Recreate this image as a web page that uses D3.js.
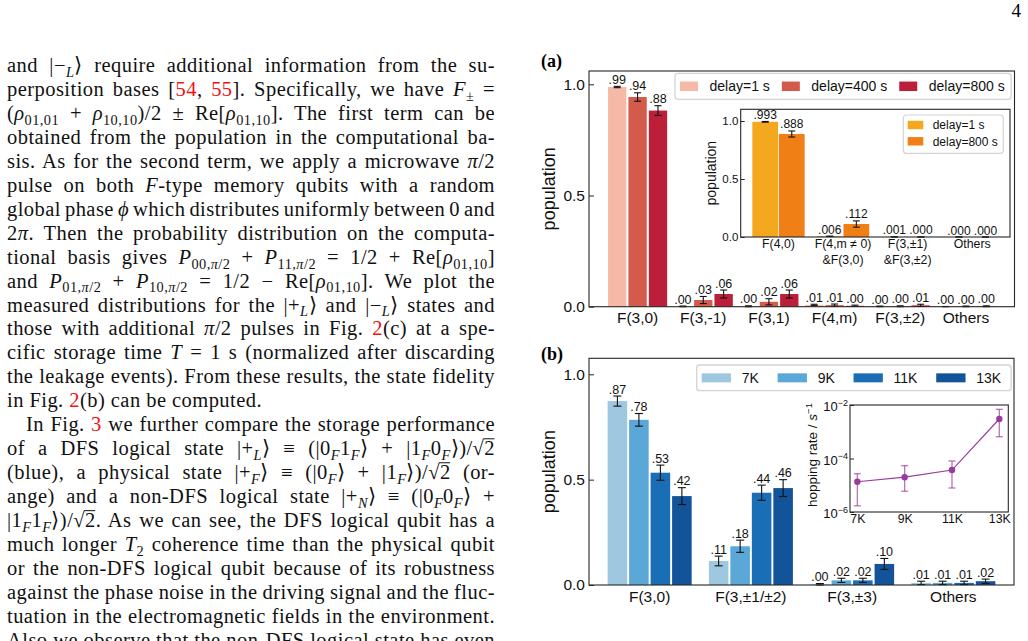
<!DOCTYPE html>
<html>
<head>
<meta charset="utf-8">
<script src="https://cdn.jsdelivr.net/npm/d3@7"></script>
<style>
  body { margin: 0; background: #fff; }
  svg { display: block; }
</style>
</head>
<body>
<svg id="page" width="1028" height="641"></svg>
<script>
// ---- panel (a): population after storage ----
var catsA = ["F(3,0)", "F(3,-1)", "F(3,1)", "F(4,m)", "F(3,±2)", "Others"];
var seriesA = ["delay=1 s", "delay=400 s", "delay=800 s"];
var popA_1s   = [0.988, 0.001, 0.002, 0.008, 0.001, 0.000];
var popA_400s = [0.943, 0.030, 0.022, 0.007, 0.002, 0.001];
var popA_800s = [0.882, 0.057, 0.057, 0.004, 0.006, 0.002];
var errA_1s   = [0.003, 0.002, 0.002, 0.003, 0.002, 0.001];
var errA_400s = [0.019, 0.016, 0.014, 0.005, 0.002, 0.002];
var errA_800s = [0.022, 0.018, 0.018, 0.003, 0.005, 0.002];

// ---- inset of (a) ----
var catsAin = ["F(4,0)", "F(4,m ≠ 0)\n&F(3,0)", "F(3,±1)\n&F(3,±2)", "Others"];
var seriesAin = ["delay=1 s", "delay=800 s"];
var popAin_1s   = [0.993, 0.006, 0.001, 0.000];
var popAin_800s = [0.888, 0.112, 0.000, 0.000];
var errAin_1s   = [0.003, 0.002, 0.001, 0.000];
var errAin_800s = [0.026, 0.027, 0.001, 0.000];

// ---- panel (b) ----
var catsB = ["F(3,0)", "F(3,±1/±2)", "F(3,±3)", "Others"];
var seriesB = ["7K", "9K", "11K", "13K"];
var popB_7K  = [0.873, 0.114, 0.003, 0.010];
var popB_9K  = [0.784, 0.184, 0.022, 0.010];
var popB_11K = [0.533, 0.438, 0.022, 0.010];
var popB_13K = [0.422, 0.460, 0.100, 0.018];
var errB_7K  = [0.024, 0.023, 0.004, 0.008];
var errB_9K  = [0.030, 0.029, 0.010, 0.008];
var errB_11K = [0.036, 0.036, 0.010, 0.008];
var errB_13K = [0.040, 0.040, 0.026, 0.010];

// ---- inset of (b): hopping rate ----
var tempK = [7, 9, 11, 13];
var tempLabels = ["7K", "9K", "11K", "13K"];
var hopRate = [1.35e-5, 2.0e-5, 3.7e-5, 3.0e-3];
var hopLow  = [1.7e-6, 6.0e-6, 7.9e-6, 6.5e-4];
var hopHigh = [2.7e-5, 5.4e-5, 8.1e-5, 6.9e-3];
var hopTicks = [1e-6, 1e-4, 1e-2];

var popTicks = [0, 0.5, 1.0];

var SANS = '"Liberation Sans", Arial, Helvetica, sans-serif';
var SERIF = '"Liberation Serif", "Times New Roman", serif';
var svg = d3.select("#page");

function stripZero(f) {
    return function(v) { return f(v).replace(/^0\./, "."); };
}

function frame(g, x0, y0, x1, y1) {
    g.append("rect")
        .attr("x", x0).attr("y", y1)
        .attr("width", x1 - x0).attr("height", y0 - y1)
        .attr("fill", "none")
        .attr("stroke", "#262626")
        .attr("stroke-width", 1.1);
}

function barPanel(cfg) {
    var g = svg.append("g").attr("font-family", SANS);
    if (cfg.fill)
        g.append("rect").attr("x", cfg.x0).attr("y", cfg.y1)
            .attr("width", cfg.x1 - cfg.x0).attr("height", cfg.y0 - cfg.y1)
            .attr("fill", "#fff");

    var x = d3.scaleBand().domain(cfg.cats).range([cfg.x0, cfg.x1])
        .paddingInner(cfg.padIn).paddingOuter(cfg.padOut);
    var xs = d3.scaleBand().domain(cfg.series).range([0, x.bandwidth()])
        .paddingInner(cfg.barPad);
    var y = d3.scaleLinear().domain([0, cfg.ymax]).range([cfg.y0, cfg.y1]);

    var rows = [];
    cfg.series.forEach(function(s, si) {
        cfg.cats.forEach(function(c, ci) {
            rows.push({cat: c, s: s, v: cfg.values[si][ci], e: cfg.errs[si][ci], col: cfg.colors[si]});
        });
    });
    var cx = function(d) { return x(d.cat) + xs(d.s) + xs.bandwidth() / 2; };

    var bar = g.selectAll("g.bar").data(rows).enter().append("g").attr("class", "bar");
    bar.append("rect")
        .attr("x", function(d) { return x(d.cat) + xs(d.s); })
        .attr("y", function(d) { return y(d.v); })
        .attr("width", xs.bandwidth())
        .attr("height", function(d) { return y(0) - y(d.v); })
        .attr("fill", function(d) { return d.col; });
    // error bars
    bar.append("line")
        .attr("x1", cx).attr("x2", cx)
        .attr("y1", function(d) { return y(Math.max(0, d.v - d.e)); })
        .attr("y2", function(d) { return y(d.v + d.e); })
        .attr("stroke", "#111").attr("stroke-width", 1.1);
    [function(d) { return d.v + d.e; }, function(d) { return Math.max(0, d.v - d.e); }].forEach(function(f) {
        bar.append("line")
            .attr("x1", function(d) { return cx(d) - cfg.cap / 2; })
            .attr("x2", function(d) { return cx(d) + cfg.cap / 2; })
            .attr("y1", function(d) { return y(f(d)); })
            .attr("y2", function(d) { return y(f(d)); })
            .attr("stroke", "#111").attr("stroke-width", 1.1);
    });
    bar.append("text")
        .attr("x", cx)
        .attr("y", function(d) { return y(d.v + d.e) - 2.5; })
        .attr("text-anchor", "middle")
        .attr("font-size", cfg.labelFs)
        .attr("fill", "#111")
        .text(function(d) { return cfg.fmt(d.v); });

    var ya = g.append("g").attr("transform", "translate(" + cfg.x0 + ",0)")
        .call(d3.axisLeft(y).tickValues(popTicks).tickFormat(d3.format(".1f"))
            .tickSizeInner(-cfg.tick).tickSizeOuter(0).tickPadding(cfg.tickPad));
    ya.select(".domain").remove();
    ya.attr("font-family", SANS).attr("font-size", cfg.tickFs);
    ya.selectAll("line").attr("stroke", "#262626");
    ya.selectAll("text").attr("fill", "#111");

    var xa = g.append("g").attr("transform", "translate(0," + cfg.y0 + ")")
        .call(d3.axisBottom(x).tickSize(0).tickPadding(cfg.xPad));
    xa.select(".domain").remove();
    xa.attr("font-family", SANS).attr("font-size", cfg.xFs);
    xa.selectAll("text").attr("fill", "#111").each(function(d) {
        var parts = d.split("\n");
        if (parts.length < 2) return;
        var t = d3.select(this).text("").attr("dy", null);
        parts.forEach(function(p, i) {
            t.append("tspan").attr("x", 0).attr("dy", i === 0 ? "0.71em" : "1.3em").text(p);
        });
    });

    frame(g, cfg.x0, cfg.y0, cfg.x1, cfg.y1);

    g.append("text")
        .attr("transform", "translate(" + cfg.ylabX + "," + (cfg.y0 + cfg.y1) / 2 + ") rotate(-90)")
        .attr("text-anchor", "middle")
        .attr("font-size", cfg.ylabFs)
        .attr("fill", "#111")
        .text("population");
    return g;
}

function hLegend(o) {
    var lg = svg.append("g").attr("font-family", SANS);
    var box = lg.append("rect");
    var px = o.x + o.padL;
    o.names.forEach(function(n, i) {
        lg.append("rect").attr("x", px).attr("y", o.y + (o.h - o.patchH) / 2)
            .attr("width", o.patchW).attr("height", o.patchH).attr("fill", o.colors[i]);
        var t = lg.append("text").attr("x", px + o.patchW + o.gap).attr("y", o.y + o.h / 2)
            .attr("dy", "0.35em").attr("font-size", o.fs).attr("fill", "#111").text(n);
        px += o.patchW + o.gap + t.node().getComputedTextLength() + o.colSpace;
    });
    box.attr("x", o.x).attr("y", o.y)
        .attr("width", px - o.colSpace + o.padR - o.x).attr("height", o.h)
        .attr("rx", 3).attr("fill", "#fff").attr("fill-opacity", 0.85)
        .attr("stroke", "#d4d4d4").attr("stroke-width", 1.3);
}

function vLegend(o) {
    var lg = svg.append("g").attr("font-family", SANS);
    lg.append("rect").attr("x", o.x).attr("y", o.y).attr("width", o.w).attr("height", o.h)
        .attr("rx", 3).attr("fill", "#fff").attr("fill-opacity", 0.85)
        .attr("stroke", "#d4d4d4").attr("stroke-width", 1.2);
    o.names.forEach(function(n, i) {
        var cy = o.y + o.first + i * o.row;
        lg.append("rect").attr("x", o.x + o.padL).attr("y", cy - o.patchH / 2)
            .attr("width", o.patchW).attr("height", o.patchH).attr("fill", o.colors[i]);
        lg.append("text").attr("x", o.x + o.padL + o.patchW + o.gap).attr("y", cy)
            .attr("dy", "0.35em").attr("font-size", o.fs).attr("fill", "#111").text(n);
    });
}

function hopInset(o) {
    var g = svg.append("g").attr("font-family", SANS);
    g.append("rect").attr("x", o.x0).attr("y", o.y1).attr("width", o.x1 - o.x0)
        .attr("height", o.y0 - o.y1).attr("fill", "#fff");
    var x = d3.scaleLinear().domain([6.69, 13.38]).range([o.x0, o.x1]);
    var y = d3.scaleLog().domain([1e-6, 1e-2]).range([o.y0, o.y1]);
    var pts = tempK.map(function(k, i) {
        return {k: k, r: hopRate[i], lo: hopLow[i], hi: hopHigh[i]};
    });
    var purple = "#9b3a9d";
    var eb = g.append("g").attr("stroke", purple).attr("stroke-opacity", 0.7).attr("stroke-width", 1.3);
    pts.forEach(function(d) {
        eb.append("line").attr("x1", x(d.k)).attr("x2", x(d.k)).attr("y1", y(d.lo)).attr("y2", y(d.hi));
        eb.append("line").attr("x1", x(d.k) - 3.5).attr("x2", x(d.k) + 3.5).attr("y1", y(d.lo)).attr("y2", y(d.lo));
        eb.append("line").attr("x1", x(d.k) - 3.5).attr("x2", x(d.k) + 3.5).attr("y1", y(d.hi)).attr("y2", y(d.hi));
    });
    g.append("path").datum(pts)
        .attr("d", d3.line().x(function(d) { return x(d.k); }).y(function(d) { return y(d.r); }))
        .attr("fill", "none").attr("stroke", purple).attr("stroke-width", 1.2);
    g.selectAll("circle").data(pts).enter().append("circle")
        .attr("cx", function(d) { return x(d.k); })
        .attr("cy", function(d) { return y(d.r); })
        .attr("r", 3.2).attr("fill", purple);

    var ya = g.append("g").attr("transform", "translate(" + o.x0 + ",0)")
        .call(d3.axisLeft(y).tickValues(hopTicks).tickSizeInner(-4).tickSizeOuter(0).tickPadding(2));
    ya.select(".domain").remove();
    ya.attr("font-family", SANS).attr("font-size", 13);
    ya.selectAll("line").attr("stroke", "#262626");
    ya.selectAll("text").attr("fill", "#111").attr("dy", "0.45em").each(function(d) {
        var t = d3.select(this).text("");
        t.append("tspan").text("10");
        t.append("tspan").attr("dy", "-0.6em").attr("font-size", 9)
            .text("−" + Math.abs(Math.round(Math.log10(d))));
    });

    var xa = g.append("g").attr("transform", "translate(0," + o.y0 + ")")
        .call(d3.axisBottom(x).tickValues(tempK)
            .tickFormat(function(d, i) { return tempLabels[i]; })
            .tickSize(0).tickPadding(2.5));
    xa.select(".domain").remove();
    xa.attr("font-family", SANS).attr("font-size", 12.3);
    xa.selectAll("text").attr("fill", "#111");

    frame(g, o.x0, o.y0, o.x1, o.y1);

    var yl = g.append("text")
        .attr("transform", "translate(" + o.ylabX + "," + o.ylabY + ") rotate(-90)")
        .attr("text-anchor", "middle").attr("font-size", 13.5).attr("fill", "#111");
    yl.append("tspan").text("hopping rate / ");
    yl.append("tspan").attr("font-style", "italic").text("s");
    yl.append("tspan").attr("dy", "-0.5em").attr("font-size", 9.5).text("−1");
}

// ---------------- panel (a) ----------------
barPanel({
    cats: catsA, series: seriesA,
    values: [popA_1s, popA_400s, popA_800s],
    errs: [errA_1s, errA_400s, errA_800s],
    colors: ["#f6b9a6", "#d25b4b", "#bb1f3a"],
    x0: 589, x1: 1014.5, y0: 306.7, y1: 71, ymax: 1.06,
    padIn: 0.1, padOut: 0.29, barPad: 0.1,
    cap: 7, labelFs: 12.5, fmt: stripZero(d3.format(".2f")),
    tick: 5, tickPad: 4, tickFs: 15.5, xPad: 5, xFs: 15.5,
    ylabX: 554.5, ylabFs: 18
});
hLegend({
    names: seriesA, colors: ["#f6b9a6", "#d25b4b", "#bb1f3a"],
    x: 675, y: 73.3, h: 26, padL: 5, padR: 6.5,
    patchW: 18, patchH: 9.5, gap: 11.5, colSpace: 12, fs: 14
});

barPanel({
    cats: catsAin, series: seriesAin,
    values: [popAin_1s, popAin_800s],
    errs: [errAin_1s, errAin_800s],
    colors: ["#f4a81e", "#f07f15"],
    x0: 740.7, x1: 1010, y0: 237, y1: 109.3, ymax: 1.101, fill: true,
    padIn: 0.19, padOut: 0.18, barPad: 0.03,
    cap: 7, labelFs: 12, fmt: stripZero(d3.format(".3f")),
    tick: 4, tickPad: 2.4, tickFs: 11.5, xPad: 2.5, xFs: 12.3,
    ylabX: 716.3, ylabFs: 14
});
vLegend({
    names: seriesAin, colors: ["#f4a81e", "#f07f15"],
    x: 903.3, y: 115, w: 100, h: 38.3, padL: 4.4, first: 10, row: 16.3,
    patchW: 15.6, patchH: 8.4, gap: 9.4, fs: 12
});

// ---------------- panel (b) ----------------
barPanel({
    cats: catsB, series: seriesB,
    values: [popB_7K, popB_9K, popB_11K, popB_13K],
    errs: [errB_7K, errB_9K, errB_11K, errB_13K],
    colors: ["#9dc8e0", "#5ba8d8", "#1a6eb5", "#135399"],
    x0: 589, x1: 1014, y0: 585, y1: 358.3, ymax: 1.076,
    padIn: 0.17, padOut: 0.184, barPad: 0.09,
    cap: 8, labelFs: 12.5, fmt: stripZero(d3.format(".2f")),
    tick: 5, tickPad: 4, tickFs: 15.5, xPad: 6, xFs: 15.5,
    ylabX: 554.5, ylabFs: 18
});
hLegend({
    names: seriesB, colors: ["#9dc8e0", "#5ba8d8", "#1a6eb5", "#135399"],
    x: 696.7, y: 365, h: 25.7, padL: 5, padR: 10,
    patchW: 29.3, patchH: 9, gap: 10.7, colSpace: 18.8, fs: 14
});
hopInset({x0: 850, x1: 1008.3, y0: 512, y1: 405, ylabX: 816.6, ylabY: 455});

// panel tags and page number
svg.append("text").attr("x", 541).attr("y", 67).attr("font-family", SERIF)
    .attr("font-weight", "bold").attr("font-size", 18).text("(a)");
svg.append("text").attr("x", 541).attr("y", 360).attr("font-family", SERIF)
    .attr("font-weight", "bold").attr("font-size", 18).text("(b)");
svg.append("text").attr("x", 1021).attr("y", 17).attr("text-anchor", "end")
    .attr("font-family", SERIF).attr("font-size", 19).text("4");

// ---------------- left column text ----------------
// * italic, # red link, ~ under a radical bar, _{..} subscript
var textLines = [
    "and |−_{*L*}⟩ require additional information from the su-",
    "perposition bases [#54#, #55#]. Specifically, we have *F*_{±} =",
    "(*ρ*_{01,01} + *ρ*_{10,10})/2 ± Re[*ρ*_{01,10}]. The first term can be",
    "obtained from the population in the computational ba-",
    "sis. As for the second term, we apply a microwave *π*/2",
    "pulse on both *F*-type memory qubits with a random",
    "global phase *ϕ* which distributes uniformly between 0 and",
    "2*π*. Then the probability distribution on the computa-",
    "tional basis gives *P*_{00,*π*/2} + *P*_{11,*π*/2} = 1/2 + Re[*ρ*_{01,10}]",
    "and *P*_{01,*π*/2} + *P*_{10,*π*/2} = 1/2 − Re[*ρ*_{01,10}]. We plot the",
    "measured distributions for the |+_{*L*}⟩ and |−_{*L*}⟩ states and",
    "those with additional *π*/2 pulses in Fig. #2#(c) at a spe-",
    "cific storage time *T* = 1 s (normalized after discarding",
    "the leakage events). From these results, the state fidelity",
    "in Fig. #2#(b) can be computed.",
    "In Fig. #3# we further compare the storage performance",
    "of a DFS logical state |+_{*L*}⟩ ≡ (|0_{*F*}1_{*F*}⟩ + |1_{*F*}0_{*F*}⟩)/√~2~",
    "(blue), a physical state |+_{*F*}⟩ ≡ (|0_{*F*}⟩ + |1_{*F*}⟩)/√~2~ (or-",
    "ange) and a non-DFS logical state |+_{*N*}⟩ ≡ (|0_{*F*}0_{*F*}⟩ +",
    "|1_{*F*}1_{*F*}⟩)/√~2~. As we can see, the DFS logical qubit has a",
    "much longer *T*_{2} coherence time than the physical qubit",
    "or the non-DFS logical qubit because of its robustness",
    "against the phase noise in the driving signal and the fluc-",
    "tuation in the electromagnetic fields in the environment.",
    "Also we observe that the non-DFS logical state has even"
];
var paraEnd = [14];
var indented = [15];

// returns indices of characters that sit under a radical bar
function richLine(sel, str, size) {
    var italic = false, red = false, over = false, sub = false, buf = "", dy = 0;
    var count = 0, bars = [];
    function flush() {
        if (!buf) return;
        var t = sel.append("tspan").text(buf);
        if (italic) t.attr("font-style", "italic");
        if (red) t.attr("fill", "#f01010");
        if (sub) t.attr("font-size", size * 0.7);
        if (dy) { t.attr("dy", dy); dy = 0; }
        if (over) for (var k = 0; k < buf.length; k++) bars.push(count + k);
        count += buf.length;
        buf = "";
    }
    for (var i = 0; i < str.length; i++) {
        var ch = str[i];
        if (ch === "*") { flush(); italic = !italic; }
        else if (ch === "#") { flush(); red = !red; }
        else if (ch === "~") { flush(); over = !over; }
        else if (ch === "_" && str[i + 1] === "{") { flush(); sub = true; dy += size * 0.24; i++; }
        else if (ch === "}" && sub) { flush(); sub = false; dy -= size * 0.24; }
        else buf += ch;
    }
    flush();
    return bars;
}

var col = svg.append("g").attr("font-family", SERIF).attr("fill", "#111")
    .attr("letter-spacing", 0.45);
var fsText = 20.5, left = 7, right = 495, lead = 23.95, base0 = 72;
textLines.forEach(function(line, i) {
    var x0 = indented.indexOf(i) >= 0 ? left + 19 : left;
    var yb = base0 + i * lead;
    var t = col.append("text").attr("x", x0).attr("y", yb)
        .attr("font-size", fsText);
    var bars = richLine(t, line, fsText);
    if (paraEnd.indexOf(i) < 0) {
        var natural = t.node().getComputedTextLength();
        var nSpaces = (line.match(/ /g) || []).length;
        if (nSpaces > 0) t.attr("word-spacing", ((right - x0) - natural) / nSpaces);
    }
    bars.forEach(function(ci) {
        var bb = t.node().getExtentOfChar(ci);
        col.append("line")
            .attr("x1", bb.x - 1).attr("x2", bb.x + bb.width - 0.5)
            .attr("y1", yb - fsText * 0.8).attr("y2", yb - fsText * 0.8)
            .attr("stroke", "#111").attr("stroke-width", 1);
    });
});
</script>
</body>
</html>
